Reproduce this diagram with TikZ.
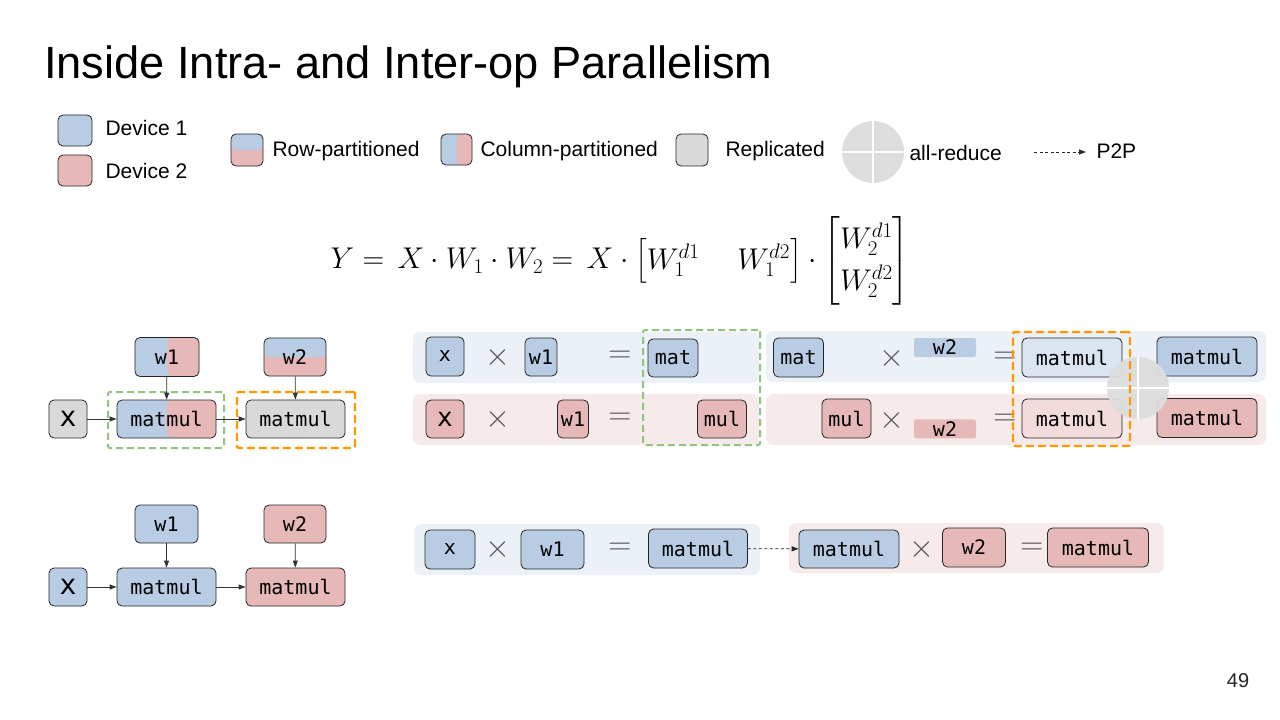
\RequirePackage{fix-cm}
\documentclass[tikz,border=0pt]{standalone}
\usepackage{amsmath}
\usepackage[no-math]{fontspec}
\setmainfont{Liberation Sans}
\newfontfamily\mono{DejaVu Sans Mono}
\usetikzlibrary{arrows.meta}
\definecolor{bluec}{HTML}{B8CCE4}
\definecolor{pinkc}{HTML}{E6B8B7}
\definecolor{grayc}{HTML}{D9D9D9}
\definecolor{bandblue}{HTML}{ECF0F7}
\definecolor{bandpink}{HTML}{F7EAEA}
\definecolor{lblue}{HTML}{DBE5F1}
\definecolor{lpink}{HTML}{F2DCDB}
\definecolor{greend}{HTML}{93C47D}
\definecolor{orangec}{HTML}{FF9900}
\definecolor{circc}{HTML}{DDDDDD}
\definecolor{opc}{HTML}{555555}
\tikzset{
  bx/.style={draw=black!85, line width=0.8pt, rounded corners=5pt, inner sep=0pt,
    font=\mono\fontsize{20}{24}\selectfont, align=center},
  bigx/.style={font=\mono\fontsize{28}{30}\selectfont},
  colsplit/.style={fill=bluec, path picture={\fill[pinkc] (path picture bounding box.north) rectangle (path picture bounding box.south east);}},
  rowsplit/.style={fill=pinkc, path picture={\fill[bluec] (path picture bounding box.west) rectangle (path picture bounding box.north east);}},
  flat/.style={inner sep=0pt, rounded corners=2pt, font=\mono\fontsize{20}{24}\selectfont},
  band/.style={inner sep=0pt, rounded corners=7pt},
  lgtext/.style={anchor=west, font=\fontsize{21}{25}\selectfont},
  op/.style={text=opc, inner sep=0pt, font=\fontsize{32}{36}\selectfont},
  conn/.style={draw=black!80, line width=0.8pt, -{Triangle[length=7pt,width=5pt]}},
  p2p/.style={draw=black!85, line width=0.8pt, dash pattern=on 3pt off 2.5pt, -{Triangle[length=7pt,width=5pt]}},
  gdash/.style={draw=greend, line width=2pt, dash pattern=on 7pt off 4pt, rounded corners=2pt, inner sep=0pt},
  odash/.style={draw=orangec, line width=2.4pt, dash pattern=on 8pt off 4pt, rounded corners=2pt, inner sep=0pt},
  allred/.style={circle, fill=circc, inner sep=0pt, minimum size=62pt,
    path picture={\draw[white, line width=1.6pt] (path picture bounding box.north) -- (path picture bounding box.south) (path picture bounding box.west) -- (path picture bounding box.east);}},
}
\begin{document}
\begin{tikzpicture}[x=1pt, y=-1pt]
\useasboundingbox (0,0) rectangle (1280,720);
\fill[white] (0,0) rectangle (1280,720);

% title
\node[anchor=base west, inner sep=0pt, font=\fontsize{45.2}{50}\selectfont] (title) at (44,78) {Inside Intra- and Inter-op Parallelism};

% legend
\node[bx, fill=bluec, minimum width=34pt, minimum height=31pt] (ld1) at (75,130.5) {};
\node[bx, fill=pinkc, minimum width=34pt, minimum height=31pt] (ld2) at (75,170.5) {};
\node[lgtext] (ld1t) at (102,128) {Device 1};
\node[lgtext] (ld2t) at (102,171) {Device 2};
\node[bx, rowsplit, minimum width=32pt, minimum height=32pt] (lrow) at (247,150) {};
\node[lgtext] (lrowt) at (269,151) {Row-partitioned};
\node[bx, colsplit, minimum width=31pt, minimum height=31pt] (lcol) at (456.5,149.5) {};
\node[lgtext] (lcolt) at (477,151) {Column-partitioned};
\node[bx, fill=grayc, minimum width=32pt, minimum height=32pt] (lrep) at (692,150) {};
\node[lgtext] (lrept) at (722,151) {Replicated};
\node[allred] (lar) at (873,152) {};
\node[lgtext] (lart) at (906,153) {all-reduce};
\coordinate (p2pa) at (1034,152);
\coordinate (p2pb) at (1086,152);
\draw[p2p] (p2pa) -- (p2pb);
\node[lgtext] (p2pt) at (1093,151) {P2P};

% equation
\node[inner sep=0pt, font=\fontsize{30}{32}\selectfont] (eq) at (620,261)
  {$\arraycolsep=19pt\renewcommand{\arraystretch}{1.3}Y = \,X\cdot W_1\cdot W_2 = \,X\cdot \begin{bmatrix} W_1^{d1} & W_1^{d2}\end{bmatrix}\cdot\begin{bmatrix}W_2^{d1}\\ W_2^{d2}\end{bmatrix}$};

% graph 1 (intra-op)
\node[bx, colsplit, minimum width=64pt, minimum height=39pt] (g1w1) at (167,357) {w1};
\node[bx, rowsplit, minimum width=62pt, minimum height=38pt] (g1w2) at (295,357) {w2};
\node[bx, bigx, fill=grayc, minimum width=38pt, minimum height=38pt] (g1x) at (68,419) {x};
\node[bx, colsplit, minimum width=99pt, minimum height=38pt] (g1m1) at (166.5,419) {matmul};
\node[bx, fill=grayc, minimum width=99pt, minimum height=38pt] (g1m2) at (295.5,419) {matmul};
\node[gdash, minimum width=116pt, minimum height=56pt] (g1g) at (166,420) {};
\node[odash, minimum width=118pt, minimum height=56pt] (g1o) at (296,420) {};
\draw[conn] (g1x) -- (g1m1);
\draw[conn] (g1m1) -- (g1m2);
\draw[conn] (g1w1) -- (g1m1);
\draw[conn] (g1w2) -- (g1m2);

% graph 2 (inter-op)
\node[bx, fill=bluec, minimum width=63pt, minimum height=38pt] (g2w1) at (166.5,524) {w1};
\node[bx, fill=pinkc, minimum width=62pt, minimum height=38pt] (g2w2) at (295,524) {w2};
\node[bx, bigx, fill=bluec, minimum width=38pt, minimum height=38pt] (g2x) at (68,587) {x};
\node[bx, fill=bluec, minimum width=99pt, minimum height=38pt] (g2m1) at (166.5,587) {matmul};
\node[bx, fill=pinkc, minimum width=99pt, minimum height=38pt] (g2m2) at (295.5,587) {matmul};
\draw[conn] (g2x) -- (g2m1);
\draw[conn] (g2m1) -- (g2m2);
\draw[conn] (g2w1) -- (g2m1);
\draw[conn] (g2w2) -- (g2m2);

% intra-op rows: bands
\node[band, fill=bandblue, minimum width=346pt, minimum height=51pt] (bandA) at (586,357.5) {};
\node[band, fill=bandpink, minimum width=346pt, minimum height=51pt] (bandB) at (586,419.5) {};
\node[band, fill=bandblue, minimum width=500pt, minimum height=51pt] (bandC) at (1016,356.5) {};
\node[band, fill=bandpink, minimum width=500pt, minimum height=51pt] (bandD) at (1016,419.5) {};

% row 1 left
\node[bx, fill=bluec, minimum width=38pt, minimum height=39pt] (r1x) at (445,356.5) {x};
\node[op] (r1t1) at (498,357) {$\times$};
\node[bx, fill=bluec, minimum width=32pt, minimum height=38pt] (r1w1) at (541,357) {w1};
\node[op] (r1e1) at (620,357) {$=$};
\node[bx, fill=bluec, minimum width=50pt, minimum height=38pt] (r1mat) at (673,358) {mat};
% row 2 left
\node[bx, fill=pinkc, minimum width=38pt, minimum height=38pt, font=\mono\fontsize{26}{28}\selectfont] (r2x) at (445,419) {x};
\node[op] (r2t1) at (498,419) {$\times$};
\node[bx, fill=pinkc, minimum width=31pt, minimum height=38pt] (r2w1) at (573,419) {w1};
\node[op] (r2e1) at (620,419) {$=$};
\node[bx, fill=pinkc, minimum width=49pt, minimum height=38pt] (r2mul) at (722,419) {mul};
\node[gdash, minimum width=117pt, minimum height=115pt] (rg) at (701.5,387.5) {};

% row 1 right
\node[bx, fill=bluec, minimum width=50pt, minimum height=39pt] (r1mat2) at (798.5,357.5) {mat};
\node[op] (r1t2) at (892,358) {$\times$};
\node[flat, fill=bluec, minimum width=62pt, minimum height=19pt] (r1w2) at (945,347.5) {w2};
\node[op] (r1e2) at (1005,358) {$=$};
\node[bx, fill=lblue, minimum width=100pt, minimum height=39pt] (r1mm) at (1072,357.5) {matmul};
\node[bx, fill=bluec, minimum width=100pt, minimum height=39pt] (r1out) at (1207,356.5) {matmul};
% row 2 right
\node[bx, fill=pinkc, minimum width=49pt, minimum height=39pt] (r2mul2) at (846.5,418.5) {mul};
\node[op] (r2t2) at (892,420) {$\times$};
\node[flat, fill=pinkc, minimum width=62pt, minimum height=19pt] (r2w2) at (945,428.8) {w2};
\node[op] (r2e2) at (1005,420) {$=$};
\node[bx, fill=lpink, minimum width=100pt, minimum height=39pt] (r2mm) at (1072,418.5) {matmul};
\node[bx, fill=pinkc, minimum width=100pt, minimum height=39pt] (r2out) at (1207,418) {matmul};
\node[allred, fill opacity=0.95] (rar) at (1138,388) {};
\node[odash, minimum width=117pt, minimum height=114pt] (ro) at (1071.5,389) {};

% inter-op row
\node[band, fill=bandblue, minimum width=346pt, minimum height=51pt] (bandE) at (587,549.5) {};
\node[band, fill=bandpink, minimum width=375pt, minimum height=50pt] (bandF) at (976.5,548) {};
\node[bx, fill=bluec, minimum width=50pt, minimum height=39pt] (b1x) at (450,549.5) {x};
\node[op] (b1t) at (498,549) {$\times$};
\node[bx, fill=bluec, minimum width=63pt, minimum height=39pt] (b1w1) at (552.5,549.5) {w1};
\node[op] (b1e) at (620,549) {$=$};
\node[bx, fill=bluec, minimum width=99pt, minimum height=39pt] (b1mm) at (698,548.5) {matmul};
\node[bx, fill=bluec, minimum width=100pt, minimum height=38pt] (b2mm) at (849,549) {matmul};
\node[op] (b2t) at (922,549) {$\times$};
\node[bx, fill=pinkc, minimum width=63pt, minimum height=39pt] (b2w2) at (974,547.5) {w2};
\node[op] (b2e) at (1032,549) {$=$};
\node[bx, fill=pinkc, minimum width=101pt, minimum height=39pt] (b2out) at (1098,547.5) {matmul};
\draw[p2p] (b1mm) -- (b2mm);

% page number
\node[font=\fontsize{20}{24}\selectfont, text=black!85] (pg) at (1238,681) {49};
\end{tikzpicture}
\end{document}
